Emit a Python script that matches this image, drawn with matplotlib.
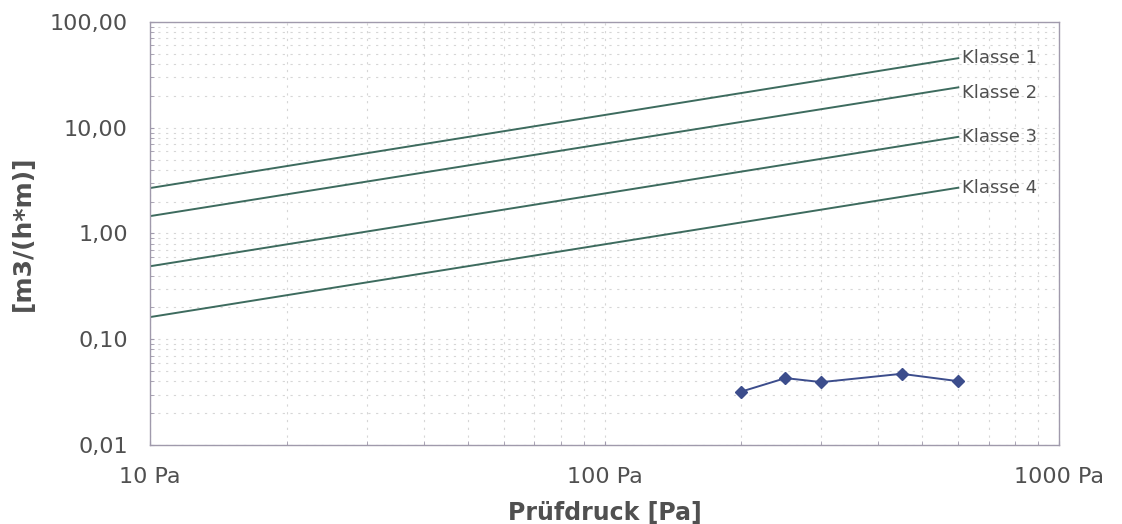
import numpy as np
import matplotlib
matplotlib.use("Agg")
import matplotlib.pyplot as plt
from matplotlib.ticker import LogLocator, NullFormatter, FixedLocator

# Klasse lines (at 10 Pa and 600 Pa)
klasse_x = [10, 600]
klasse_1 = [2.69, 45.5]
klasse_2 = [1.46, 24.1]
klasse_3 = [0.49, 8.2]
klasse_4 = [0.162, 2.71]
klasse_names = ['Klasse 1', 'Klasse 2', 'Klasse 3', 'Klasse 4']

# measured values
mess_x = [200, 250, 300, 450, 600]
mess_y = [0.032, 0.0429, 0.0393, 0.0471, 0.0401]

y_ticks = [0.01, 0.1, 1, 10, 100]
y_labels = ['0,01', '0,10', '1,00', '10,00', '100,00']
x_ticks = [10, 100, 1000]
x_labels = ['10 Pa', '100 Pa', '1000 Pa']

line_col = '#3d6b5e'
mess_col = '#3c4d8c'
text_col = '#505050'

fig = plt.figure(figsize=(11.22, 5.24), dpi=100)
ax = fig.add_axes([0.1337, 0.1508, 0.8103, 0.8072])

label_offsets = [0, -4, 0, 0]
for vals, name, dy in zip([klasse_1, klasse_2, klasse_3, klasse_4], klasse_names, label_offsets):
    ax.plot(klasse_x, vals, color=line_col, lw=1.4)
    ax.annotate(name, (klasse_x[-1], vals[-1]), xytext=(3, dy), textcoords='offset points',
                va='center', ha='left', fontsize=13, color=text_col)

ax.plot(mess_x, mess_y, color=mess_col, lw=1.4, marker='D', ms=6.5, mec=mess_col, mfc=mess_col)

ax.set_xscale('log')
ax.set_yscale('log')
ax.set_xlim(10, 1000)
ax.set_ylim(0.01, 100)

ax.xaxis.set_major_locator(FixedLocator(x_ticks))
ax.set_xticklabels(x_labels)
ax.xaxis.set_minor_locator(LogLocator(base=10, subs=np.arange(2, 10)))
ax.xaxis.set_minor_formatter(NullFormatter())
ax.yaxis.set_major_locator(FixedLocator(y_ticks))
ax.set_yticklabels(y_labels)
ax.yaxis.set_minor_locator(LogLocator(base=10, subs=np.arange(2, 10)))
ax.yaxis.set_minor_formatter(NullFormatter())

ax.grid(True, which='both', color='#d6d6d6', lw=0.8, linestyle=(0, (2, 5)))
ax.set_axisbelow(True)

for side in ['left', 'bottom', 'top', 'right']:
    ax.spines[side].set_color('#a09aac')
    ax.spines[side].set_linewidth(1.0)

ax.tick_params(axis='both', which='both', colors='#a09aac', labelcolor=text_col,
               labelsize=16, direction='in', length=3)
ax.tick_params(axis='x', which='major', pad=16)
ax.tick_params(axis='y', which='major', pad=16)

ax.set_xlabel('Prüfdruck [Pa]', fontsize=17, fontweight='bold', color=text_col, labelpad=10)
ax.set_ylabel('[m3/(h*m)]', fontsize=18, fontweight='bold', color=text_col, labelpad=11)

fig.savefig('out.png', dpi=100)
